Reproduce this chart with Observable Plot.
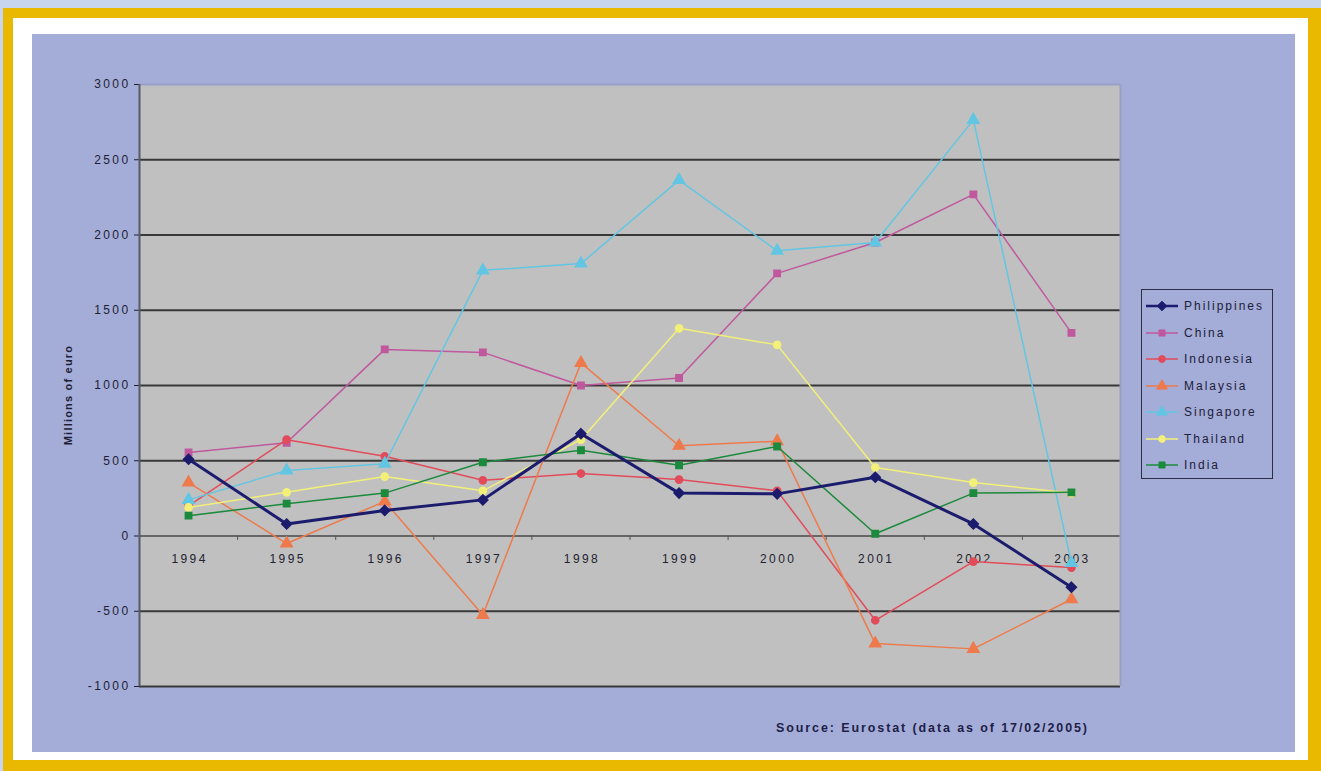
<!DOCTYPE html>
<html>
<head>
<meta charset="utf-8">
<script src="https://cdn.jsdelivr.net/npm/d3@7"></script>
<script src="https://cdn.jsdelivr.net/npm/@observablehq/plot@0.6"></script>
<style>
  body { margin: 0; width: 1321px; height: 771px; background: #c7d6ee; overflow: hidden;
         font-family: "Liberation Sans", Arial, sans-serif; }
  #frame { position: absolute; left: 3px; top: 8px; width: 1318px; height: 763px; background: #e9b902; }
  #mat { position: absolute; left: 13px; top: 18px; width: 1295px; height: 742px; background: #ffffff; }
  #panel { position: absolute; left: 32px; top: 34px; width: 1263px; height: 718px; background: #a4acd8; }
  #chart { position: absolute; left: 0; top: 0; }
  #chart svg g[aria-label^="y-axis"] text { letter-spacing: 2.4px; }
  #chart svg g[aria-label="text"] text { letter-spacing: 2.4px; }
  #ylabel { position: absolute; left: 36px; top: 361px; width: 0; height: 0; }
  #ylabel span { position: absolute; transform: translate(-50%, -50%) rotate(-90deg); white-space: nowrap;
                 font-weight: bold; font-size: 11px; letter-spacing: 1.2px; color: #1e1e34; }
  #legend { position: absolute; left: 1109px; top: 255px; width: 132px; height: 190px;
            border: 1.5px solid #2c2c44; box-sizing: border-box; padding-top: 3px; }
  .item { display: flex; align-items: center; height: 26.5px; font-size: 12px; letter-spacing: 2px; color: #202038; }
  .item svg { margin-left: 4px; margin-right: 6px; }
  #source { position: absolute; left: 744px; top: 687px; font-weight: bold; font-size: 12.5px;
            letter-spacing: 1.9px; color: #1e1e48; }
</style>
</head>
<body>
<div id="frame"></div>
<div id="mat"></div>
<div id="panel">
  <div id="chart"></div>
  <div id="ylabel"><span>Millions of euro</span></div>
  <div id="legend"></div>
  <div id="source">Source: Eurostat (data as of 17/02/2005)</div>
</div>
<script>
// Foreign direct investment flows, millions of euro
const years = [1994, 1995, 1996, 1997, 1998, 1999, 2000, 2001, 2002, 2003];
const philippines = [510, 80, 170, 240, 680, 285, 280, 390, 80, -340];
const china       = [555, 620, 1240, 1220, 1000, 1050, 1745, 1950, 2270, 1350];
const indonesia   = [200, 640, 530, 370, 415, 375, 300, -560, -170, -210];
const malaysia    = [355, -50, 230, -525, 1150, 600, 630, -715, -750, -420];
const singapore   = [240, 435, 480, 1765, 1810, 2365, 1895, 1950, 2765, -180];
const thailand    = [190, 290, 395, 300, 640, 1380, 1270, 455, 355, 285];
const india       = [135, 215, 285, 490, 570, 470, 595, 15, 285, 290];
const countries = ["Philippines", "China", "Indonesia", "Malaysia", "Singapore", "Thailand", "India"];
const seriesValues = [philippines, china, indonesia, malaysia, singapore, thailand, india];
const yTicks = [-1000, -500, 0, 500, 1000, 1500, 2000, 2500, 3000];

// Drawing style for each country
const look = {
  Philippines: {color: "#1c1c6e", symbol: "diamond2", r: 4.5, width: 3},
  China:       {color: "#c0589e", symbol: "square",   r: 3.6, width: 1.5},
  Indonesia:   {color: "#e24c5a", symbol: "circle",   r: 3.6, width: 1.5},
  Malaysia:    {color: "#ee7a4c", symbol: "triangle", r: 4.2, width: 1.5},
  Singapore:   {color: "#62c6e2", symbol: "triangle", r: 4.2, width: 1.5},
  Thailand:    {color: "#f2f078", symbol: "circle",   r: 3.6, width: 1.5},
  India:       {color: "#1c8a3c", symbol: "square",   r: 3.6, width: 1.5}
};

const rows = countries.flatMap((c, k) => years.map((yr, i) => ({country: c, year: yr, value: seriesValues[k][i]})));
const bounds = years.map(yr => yr + 0.5).slice(0, -1);

// Draw the Philippines last so its heavy line sits on top
const drawOrder = ["China", "Indonesia", "Malaysia", "Singapore", "Thailand", "India", "Philippines"];
const seriesMarks = drawOrder.flatMap(c => {
  const data = rows.filter(d => d.country === c);
  const s = look[c];
  return [
    Plot.line(data, {x: "year", y: "value", stroke: s.color, strokeWidth: s.width}),
    Plot.dot(data, {x: "year", y: "value", symbol: () => s.symbol, fill: s.color, stroke: s.color, r: s.r})
  ];
});

const chart = Plot.plot({
  width: 1263,
  height: 690,
  marginLeft: 107,
  marginRight: 175,
  marginTop: 50,
  marginBottom: 38,
  style: {background: "transparent", fontSize: "12px", color: "#1e1e34", fontFamily: "Liberation Sans, Arial, sans-serif"},
  x: {domain: [years[0] - 0.5, years[years.length - 1] + 0.5], axis: null},
  y: {domain: [-1000, 3000], ticks: yTicks.length - 1, tickFormat: d => String(d), tickSize: 5, tickPadding: 4,
      label: null},
  symbol: {type: "identity"},
  marks: [
    Plot.frame({fill: "#c0c0c0", stroke: null}),
    Plot.ruleY(yTicks.filter(v => v !== 0 && v !== 3000), {stroke: "#383838", strokeWidth: 2}),
    Plot.ruleY([3000], {stroke: "#98a0c8", strokeWidth: 2}),
    Plot.ruleY([0], {stroke: "#666666", strokeWidth: 2}),
    Plot.ruleX([years[years.length - 1] + 0.5], {stroke: "#9aa0c4", strokeWidth: 2}),
    Plot.ruleX([years[0] - 0.5], {stroke: "#555a66", strokeWidth: 2}),
    Plot.ruleX(bounds, {y1: 0, y2: -30, stroke: "#555555"}),
    Plot.text(years, {x: d => d, y: 0, dy: 23, dx: 1, text: d => String(d), fontSize: 12, fill: "#222230"}),
    ...seriesMarks
  ]
});
document.getElementById("chart").append(chart);

// Legend
const legend = d3.select("#legend");
const symbolTypes = {diamond2: d3.symbolDiamond2, square: d3.symbolSquare, circle: d3.symbolCircle, triangle: d3.symbolTriangle};
countries.forEach(c => {
  const s = look[c];
  const item = legend.append("div").attr("class", "item");
  const svg = item.append("svg").attr("width", 32).attr("height", 14);
  svg.append("line").attr("x1", 0).attr("x2", 32).attr("y1", 7).attr("y2", 7)
     .attr("stroke", s.color).attr("stroke-width", s.width === 3 ? 2.5 : 1.5);
  svg.append("path").attr("transform", "translate(16,7)")
     .attr("d", d3.symbol(symbolTypes[s.symbol], Math.PI * s.r * s.r * 0.9)())
     .attr("fill", s.color).attr("stroke", s.color);
  item.append("span").text(c);
});
</script>
</body>
</html>
